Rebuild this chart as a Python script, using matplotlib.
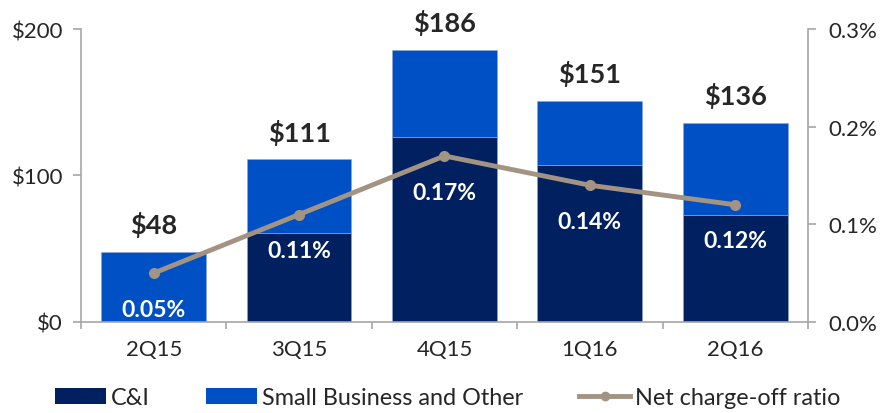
import matplotlib
matplotlib.use("Agg")
import matplotlib.pyplot as plt
import numpy as np
from matplotlib.lines import Line2D
from matplotlib.patches import Patch

plt.rcParams['font.family'] = ['Lato', 'DejaVu Sans']

quarters = ["2Q15", "3Q15", "4Q15", "1Q16", "2Q16"]
ci = [0, 61, 126, 107, 73]
small_biz = [48, 50, 60, 44, 63]
totals = [48, 111, 186, 151, 136]
nco_ratio = [0.05, 0.11, 0.17, 0.14, 0.12]
left_ticks = [0, 100, 200]
left_labels = ["$0", "$100", "$200"]
right_ticks = [0.0, 0.1, 0.2, 0.3]
right_labels = ["0.0%", "0.1%", "0.2%", "0.3%"]

navy = "#002060"
blue = "#0050C5"
taupe = "#A39382"
gray = "#A6A6A6"
textc = "#262626"

fig = plt.figure(figsize=(8.81, 4.14), dpi=100)
ax = fig.add_axes([0.092, 0.22, 0.825, 0.7075])
x = np.arange(len(quarters))
w = 0.72
ax.bar(x, ci, w, color=navy, edgecolor="#8FA8D8", linewidth=0.4, zorder=2)
ax.bar(x, small_biz, w, bottom=ci, color=blue, edgecolor="#8FA8D8", linewidth=0.4, zorder=2)
ax.set_xlim(-0.5, len(quarters) - 0.5)
ax.set_ylim(0, 200)
ax.set_yticks(left_ticks)
ax.set_yticklabels(left_labels)
ax.set_xticks(x)
ax.set_xticklabels(quarters)
ax.set_xticks(np.arange(-0.5, len(quarters)), minor=True)
ax.tick_params(axis='x', which='major', length=0, pad=12, labelsize=16, colors=textc)
ax.tick_params(axis='x', which='minor', length=5, color=gray, width=1.2)
ax.tick_params(axis='y', length=6, color=gray, width=1.2, labelsize=16, labelcolor=textc, pad=7)
for s in ['top', 'right']:
    ax.spines[s].set_visible(False)
for s in ['left', 'bottom']:
    ax.spines[s].set_color(gray)
    ax.spines[s].set_linewidth(1.2)

for xi, t in zip(x, totals):
    ax.annotate(f"${t}", (xi, t), xytext=(0, 20), textcoords='offset points',
                ha='center', va='center', fontsize=19.5, fontweight='bold', color=textc,
                annotation_clip=False)

ax2 = ax.twinx()
ax2.set_ylim(0, 0.3)
ax2.set_yticks(right_ticks)
ax2.set_yticklabels(right_labels)
ax2.tick_params(axis='y', length=6, color=gray, width=1.2, labelsize=16, labelcolor=textc, pad=9)
for s in ['top', 'left', 'bottom']:
    ax2.spines[s].set_visible(False)
ax2.spines['right'].set_color(gray)
ax2.spines['right'].set_linewidth(1.2)
ax2.plot(x, nco_ratio, color=taupe, linewidth=3.5, marker='o', markersize=7, zorder=3)
for xi, r in zip(x, nco_ratio):
    ax2.annotate(f"{r:.2f}%", (xi, r), xytext=(0, -26), textcoords='offset points',
                 ha='center', va='center', fontsize=16.5, fontweight='bold', color='white')

handles = [Patch(facecolor=navy, edgecolor='none'),
           Patch(facecolor=blue, edgecolor='none'),
           Line2D([0], [0], color=taupe, linewidth=3.5, marker='o', markersize=6)]
fig.legend(handles, ["C&I", "Small Business and Other", "Net charge-off ratio"],
           loc='center', bbox_to_anchor=(0.508, 0.037), ncol=3, frameon=False,
           fontsize=16.8, handlelength=2.2, handleheight=0.7, columnspacing=2.4,
           handletextpad=0.2, labelcolor=textc)

fig.savefig("out.png", dpi=100)
